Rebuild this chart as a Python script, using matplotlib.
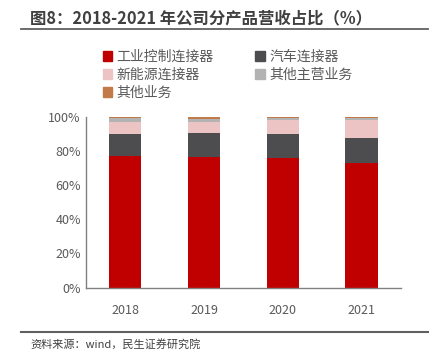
import matplotlib
matplotlib.use("Agg")
import matplotlib.pyplot as plt
import numpy as np
from matplotlib.patches import Rectangle
from matplotlib.lines import Line2D

plt.rcParams['font.family'] = ['Noto Sans CJK SC', 'DejaVu Sans']

years = ['2018', '2019', '2020', '2021']
series_names = ['工业控制连接器', '汽车连接器', '新能源连接器', '其他主营业务', '其他业务']
industrial = [77.0, 76.6, 75.8, 73.1]
auto = [12.9, 13.8, 14.3, 14.4]
new_energy = [7.2, 6.5, 7.9, 10.7]
other_main = [1.9, 1.9, 1.0, 0.8]
other_biz = [1.0, 1.2, 1.0, 1.0]
colors = ['#C00000', '#4D4D4F', '#EDC4C4', '#B3B3B3', '#C27A48']

fig = plt.figure(figsize=(4.41, 3.56), dpi=100)
ax = fig.add_axes([85.7 / 441, 1 - 287.7 / 356, (401 - 85.7) / 441, 171 / 356])

x = np.arange(len(years))
bottom = np.zeros(len(years))
for vals, name, c in zip([industrial, auto, new_energy, other_main, other_biz], series_names, colors):
    ax.bar(x, vals, bottom=bottom, width=0.41, color=c, label=name)
    bottom += np.array(vals)

ax.set_xlim(-0.5, 3.5)
ax.set_ylim(0, 100)
ax.set_yticks(range(0, 101, 20))
ax.set_yticklabels([f'{v}%' for v in range(0, 101, 20)])
ax.set_xticks(x)
ax.set_xticklabels(years)
ax.tick_params(axis='both', length=0, labelsize=9, colors='#595959')
ax.tick_params(axis='x', pad=12)
for s in ['top', 'right']:
    ax.spines[s].set_visible(False)
for s in ['left', 'bottom']:
    ax.spines[s].set_color('#808080')
    ax.spines[s].set_linewidth(1.0)

# legend is filled column-wise, so reorder to get row-wise layout
order = [0, 2, 4, 1, 3]
handles = [Rectangle((0, 0), 1, 1, color=colors[i]) for i in order]
labels = [series_names[i] for i in order]
fig.legend(handles, labels, loc='upper left', bbox_to_anchor=(90 / 441, 1 - 37 / 356),
           ncol=2, frameon=False, fontsize=10, handlelength=0.7, handleheight=0.7,
           handletextpad=0.3, columnspacing=3.0, labelspacing=0.3, labelcolor='#595959')

fig.text(30 / 441, 1 - 18 / 356, '图8：2018-2021 年公司分产品营收占比（%）', fontsize=11.8,
         fontweight='bold', color='#404040', va='center', ha='left')
fig.add_artist(Line2D([21 / 441, 428 / 441], [1 - 28.5 / 356] * 2, color='#606060', lw=1.3))
fig.add_artist(Line2D([21 / 441, 428 / 441], [1 - 332 / 356] * 2, color='#606060', lw=1.5))
fig.text(30 / 441, 1 - 344 / 356, '资料来源：wind，民生证券研究院', fontsize=8, color='#404040',
         va='center', ha='left')

fig.savefig('out.png', dpi=100)
